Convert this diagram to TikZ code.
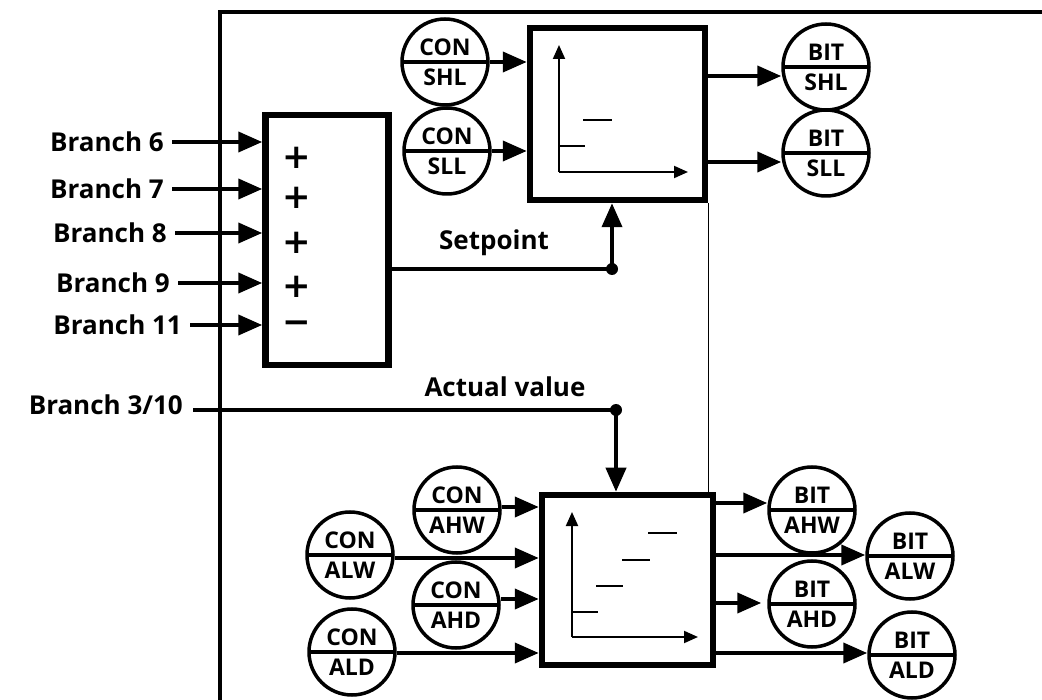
\documentclass[tikz,border=0pt]{standalone}
\usepackage{fontspec}
\setmainfont{Open Sans}
\newfontfamily\signfont{DejaVu Sans}
\usetikzlibrary{arrows.meta,positioning,shapes.multipart}

\begin{document}
\begin{tikzpicture}[
    x=1pt,y=-1pt,
    font=\fontsize{26}{28}\selectfont\bfseries,
    blk/.style={draw,line width=6.5pt,inner sep=0pt},
    tag/.style={circle split,draw,line width=3.5pt,minimum size=86pt,inner xsep=1pt,inner ysep=5pt,font=\fontsize{23}{24}\selectfont\bfseries},
    lbl/.style={anchor=east,inner sep=8pt},
    sgn/.style={font=\signfont\fontsize{34}{34}\selectfont\bfseries,inner sep=0pt},
    arr/.style={-{Triangle[length=24pt,width=20pt]},line width=4pt},
    axis/.style={-{Triangle[length=14pt,width=12pt]},line width=2pt},
    lvl/.style={line width=2pt},
    jn/.style={circle,fill,inner sep=0pt,minimum size=12pt}
  ]
    \useasboundingbox (0,0) rectangle (1042,700);
    % frame
    \draw[line width=4pt] (220,700) -- (220,12) -- (1042,12);

    % blocks
    \node[blk,minimum width=123pt,minimum height=250pt] (sum) at (327,240) {};
    \node[blk,minimum width=175pt,minimum height=172pt] (cmp) at (617.5,114) {};
    \node[blk,minimum width=171pt,minimum height=170pt] (lim) at (627.5,580) {};
    \draw[line width=1.5pt] (cmp.south east) -- (cmp.south east |- lim.north);

    % summing inputs
    \foreach \n/\y/\x in {6/142/172,7/189/172,8/233/175,9/283/178,11/325/190}{
      \node[lbl] (br\n) at (\x,\y) {Branch \n};
      \draw[arr] (br\n.east) -- (br\n.east -| sum.west);
    }
    \node[sgn] (s6) at (297,158) {+};
    \node[sgn] (s7) at (297,198) {+};
    \node[sgn] (s8) at (297,243) {+};
    \node[sgn] (s9) at (297,287) {+};
    \node[sgn] (s11) at (297,327) {−};

    % setpoint
    \node[jn] (sp) at (612,269) {};
    \node (spt) at (494,243) {Setpoint};
    \draw[line width=4pt] (sp.center) -- (sp.center -| sum.east);
    \draw[arr] (sp.center) -- (sp.center |- cmp.south);

    % actual value
    \node[lbl,inner sep=10pt] (br310) at (193,405) {Branch 3/10};
    \node[jn] (av) at (616,410) {};
    \node (avt) at (505,387) {Actual value};
    \draw[line width=4pt] (br310.east |- av) -- (av.center);
    \draw[arr] (av.center) -- (av.center |- lim.north);

    % setpoint limits
    \node[tag] (cshl) at (445,62) {CON\nodepart{lower}SHL};
    \node[tag] (csll) at (447,151) {CON\nodepart{lower}SLL};
    \node[tag] (bshl) at (826,67) {BIT\nodepart{lower}SHL};
    \node[tag] (bsll) at (826,153) {BIT\nodepart{lower}SLL};
    \draw[arr] (cshl.east) -- (cshl.east -| cmp.west);
    \draw[arr] (csll.east) -- (csll.east -| cmp.west);
    \draw[arr] (cmp.east |- 0,76) -- (bshl.west |- 0,76);
    \draw[arr] (cmp.east |- 0,162) -- (bsll.west |- 0,162);
    \draw[axis] (559,172) -- (559,45);
    \draw[axis] (559,172) -- (688,172);
    \draw[lvl] (559,146) -- (585,146);
    \draw[lvl] (583,120) -- (612,120);

    % actual value limits
    \node[tag] (cahw) at (457,510) {CON\nodepart{lower}AHW};
    \node[tag] (calw) at (350,555) {CON\nodepart{lower}ALW};
    \node[tag] (cahd) at (456,605) {CON\nodepart{lower}AHD};
    \node[tag] (cald) at (352,652) {CON\nodepart{lower}ALD};
    \node[tag] (bahw) at (812,510) {BIT\nodepart{lower}AHW};
    \node[tag] (balw) at (910,556) {BIT\nodepart{lower}ALW};
    \node[tag] (bahd) at (812,604) {BIT\nodepart{lower}AHD};
    \node[tag] (bald) at (912,655) {BIT\nodepart{lower}ALD};
    \draw[arr] (cahw.east |- 0,507) -- (lim.west |- 0,507);
    \draw[arr] (calw.east |- 0,558) -- (lim.west |- 0,558);
    \draw[arr] (cahd.east |- 0,599) -- (lim.west |- 0,599);
    \draw[arr] (cald.east |- 0,653) -- (lim.west |- 0,653);
    \draw[arr] (lim.east |- 0,503) -- (bahw.west |- 0,503);
    \draw[arr] (lim.east |- 0,555) -- (balw.west |- 0,555);
    \draw[arr] (lim.east |- 0,603) -- ([xshift=-6pt]bahd.west |- 0,603);
    \draw[arr] (lim.east |- 0,653) -- (bald.west |- 0,653);
    \draw[axis] (572,637) -- (572,512);
    \draw[axis] (572,637) -- (698,637);
    \draw[lvl] (572,612) -- (598,612);
    \draw[lvl] (596,586) -- (623,586);
    \draw[lvl] (622,560) -- (650,560);
    \draw[lvl] (648,533) -- (677,533);
\end{tikzpicture}
\end{document}
